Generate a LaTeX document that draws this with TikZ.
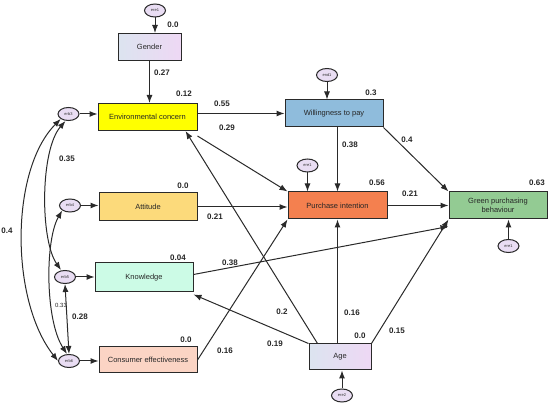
\documentclass[tikz,border=0pt]{standalone}
\usepackage{fontspec}
\setmainfont{Liberation Sans}
\usetikzlibrary{arrows.meta,shapes.geometric}
\definecolor{cEnv}{HTML}{FFFF00}
\definecolor{cWtp}{HTML}{8FBCDC}
\definecolor{cPi}{HTML}{F4804F}
\definecolor{cGpb}{HTML}{93CB93}
\definecolor{cAtt}{HTML}{FCDA7B}
\definecolor{cKnow}{HTML}{CCFBE6}
\definecolor{cCe}{HTML}{FBD4C4}
\definecolor{cGl}{HTML}{DCE4F0}
\definecolor{cGr}{HTML}{EED8F4}
\definecolor{cErr}{HTML}{E9DDF3}
\definecolor{cLine}{HTML}{2A2A2A}
\begin{document}
\begin{tikzpicture}[x=1pt,y=-1pt,
  box/.style={draw=cLine, line width=1pt, minimum width=98pt, minimum height=27pt,
    font=\fontsize{7.5}{8.5}\selectfont, inner sep=1pt, text=black!85, align=center},
  gradbox/.style={box, left color=cGl, right color=cGr, shading angle=90},
  err/.style={ellipse, draw=cLine, fill=cErr, line width=1pt, minimum width=21pt,
    minimum height=13pt, inner sep=0pt, font=\fontsize{4}{4.5}\selectfont, text=black!80},
  lbl/.style={font=\bfseries\fontsize{8}{9}\selectfont, text=black!85},
  slbl/.style={font=\fontsize{6}{7}\selectfont, text=black!85},
  arr/.style={-{Latex[length=8pt,width=6pt]}, line width=1pt, draw=cLine},
  dbl/.style={{Latex[length=8pt,width=6pt]}-{Latex[length=8pt,width=6pt]}, line width=1pt, draw=cLine}
]
\useasboundingbox (0,0) rectangle (550,406);

% boxes
\node[gradbox, minimum width=63pt] (gender) at (149.5,47) {Gender};
\node[box, fill=cEnv, minimum width=99pt] (env) at (147.5,117) {Environmental concern};
\node[box, fill=cWtp] (wtp) at (334,113.5) {Willingness to pay};
\node[box, fill=cPi, minimum width=99pt] (pi) at (337.5,205.5) {Purchase intention};
\node[box, fill=cGpb] (gpb) at (498,205.5) {Green purchasing\\behaviour};
\node[box, fill=cAtt, minimum height=28pt] (att) at (148,207) {Attitude};
\node[box, fill=cKnow, minimum height=29pt] (know) at (144,277.5) {Knowledge};
\node[box, fill=cCe, minimum height=26pt] (ce) at (148,360) {Consumer effectiveness};
\node[gradbox, minimum width=62pt, minimum height=26pt] (age) at (340,357) {Age};

% error terms
\node[err] (eg) at (155,10.5) {ere1};
\node[err] (ew) at (327,75) {end1};
\node[err] (epi) at (307.5,165.5) {ere1};
\node[err] (egpb) at (508.5,246) {ere1};
\node[err] (eage) at (342,395.5) {ere2};
\node[err] (erb3) at (68.5,114) {erb3};
\node[err] (erb4) at (70,205.5) {erb4};
\node[err] (erb5) at (65,277) {erb5};
\node[err] (erb6) at (69,361) {erb6};

% error arrows
\draw[arr] (eg) -- (eg |- gender.north);
\draw[arr] (ew) -- (ew |- wtp.north);
\draw[arr] (epi) -- (epi |- pi.north);
\draw[arr] (egpb) -- (egpb |- gpb.south);
\draw[arr] (eage) -- (eage |- age.south);
\draw[arr] (erb3) -- (erb3 -| env.west);
\draw[arr] (erb4) -- (erb4 -| att.west);
\draw[arr] (erb5) -- (erb5 -| know.west);
\draw[arr] (erb6) -- (erb6 -| ce.west);

% structural paths
\draw[arr] (gender) -- (gender |- env.north);
\draw[arr] (env.east |- wtp.west) -- (wtp.west);
\draw[arr] ([yshift=-5pt]env.south east) -- (pi.north west);
\draw[arr] (pi.north |- wtp.south) -- (pi.north);
\draw[arr] (wtp.south east) -- (gpb.north west);
\draw[arr] (pi.east) -- (gpb.west);
\draw[arr] (att.east) -- (att.east -| pi.west);
\draw[arr] ([yshift=3pt]know.east) -- ([yshift=-7pt]gpb.south west);
\draw[arr] (ce.east) -- (pi.south west);
\draw[arr] ([xshift=9pt]age.north west) -- ([xshift=-12pt]env.south east);
\draw[arr] (age.north west) -- ([yshift=-2pt]know.south east);
\draw[arr] (age.north -| pi.south) -- (pi.south);
\draw[arr] (age.north east) -- (gpb.south west);

% covariances
\draw[dbl] (erb3.south west) .. controls (10,170) and (10,300) .. (erb6.west);
\draw[dbl] ([xshift=-3pt]erb3.south) .. controls (40,150) and (40,240) .. ([xshift=-4pt]erb5.north);
\draw[dbl] (erb4.south west) .. controls (45,240) and (45,320) .. ([xshift=-2pt]erb6.north);
\draw[dbl] (erb5.south) -- (erb6.north);

% labels
\node[lbl] (l1) at (173,25) {0.0};
\node[lbl] (l2) at (162,73) {0.27};
\node[lbl] (l3) at (184,94) {0.12};
\node[lbl] (l4) at (222,104) {0.55};
\node[lbl] (l5) at (227,128) {0.29};
\node[lbl] (l6) at (371,93) {0.3};
\node[lbl] (l7) at (407,140) {0.4};
\node[lbl] (l8) at (350,145) {0.38};
\node[lbl] (l9) at (377,183) {0.56};
\node[lbl] (l10) at (410,194) {0.21};
\node[lbl] (l11) at (537,183) {0.63};
\node[lbl] (l12) at (67,159) {0.35};
\node[lbl] (l13) at (183,186) {0.0};
\node[lbl] (l14) at (215,217) {0.21};
\node[lbl] (l15) at (7,231) {0.4};
\node[lbl] (l16) at (178,258) {0.04};
\node[lbl] (l17) at (230,263) {0.38};
\node[slbl] (l18) at (61,305) {0.33};
\node[lbl] (l19) at (80,317) {0.28};
\node[lbl] (l20) at (186,340) {0.0};
\node[lbl] (l21) at (225,351) {0.16};
\node[lbl] (l22) at (282,312) {0.2};
\node[lbl] (l23) at (275,344) {0.19};
\node[lbl] (l24) at (352,313) {0.16};
\node[lbl] (l25) at (360,336) {0.0};
\node[lbl] (l26) at (397,331) {0.15};
\end{tikzpicture}
\end{document}
